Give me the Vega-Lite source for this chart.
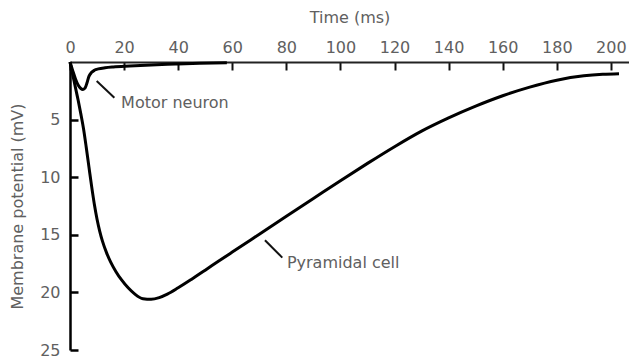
{
  "$schema": "https://vega.github.io/schema/vega-lite/v6.json",
  "autosize": "none",
  "width": 559,
  "height": 288,
  "padding": {"left": 70, "top": 62, "right": 0, "bottom": 11},
  "background": "white",
  "config": {
    "view": {"stroke": null},
    "font": "DejaVu Sans",
    "axis": {"labelFont": "DejaVu Sans", "titleFont": "DejaVu Sans", "labelFontSize": 16, "titleFontSize": 16, "labelColor": "#606060", "titleColor": "#606060", "titleFontWeight": "normal", "grid": false}
  },
  "datasets": {
    "curves": [
      {"cell": "Pyramidal cell", "time": 0, "mv": 0},
      {"cell": "Pyramidal cell", "time": 1, "mv": 1.1},
      {"cell": "Pyramidal cell", "time": 2, "mv": 2.2},
      {"cell": "Pyramidal cell", "time": 3, "mv": 3.3},
      {"cell": "Pyramidal cell", "time": 4, "mv": 4.5},
      {"cell": "Pyramidal cell", "time": 5, "mv": 5.8},
      {"cell": "Pyramidal cell", "time": 6, "mv": 7.4},
      {"cell": "Pyramidal cell", "time": 7, "mv": 9.1},
      {"cell": "Pyramidal cell", "time": 8, "mv": 10.8},
      {"cell": "Pyramidal cell", "time": 9, "mv": 12.35},
      {"cell": "Pyramidal cell", "time": 10, "mv": 13.65},
      {"cell": "Pyramidal cell", "time": 11, "mv": 14.7},
      {"cell": "Pyramidal cell", "time": 12, "mv": 15.55},
      {"cell": "Pyramidal cell", "time": 13.5, "mv": 16.55},
      {"cell": "Pyramidal cell", "time": 15, "mv": 17.35},
      {"cell": "Pyramidal cell", "time": 17, "mv": 18.2},
      {"cell": "Pyramidal cell", "time": 19, "mv": 18.9},
      {"cell": "Pyramidal cell", "time": 21.5, "mv": 19.6},
      {"cell": "Pyramidal cell", "time": 24, "mv": 20.15},
      {"cell": "Pyramidal cell", "time": 27, "mv": 20.55},
      {"cell": "Pyramidal cell", "time": 30, "mv": 20.6},
      {"cell": "Pyramidal cell", "time": 33, "mv": 20.45},
      {"cell": "Pyramidal cell", "time": 36, "mv": 20.15},
      {"cell": "Pyramidal cell", "time": 40, "mv": 19.6},
      {"cell": "Pyramidal cell", "time": 45, "mv": 18.85},
      {"cell": "Pyramidal cell", "time": 50, "mv": 18.07},
      {"cell": "Pyramidal cell", "time": 55, "mv": 17.28},
      {"cell": "Pyramidal cell", "time": 60, "mv": 16.5},
      {"cell": "Pyramidal cell", "time": 70, "mv": 14.95},
      {"cell": "Pyramidal cell", "time": 80, "mv": 13.4},
      {"cell": "Pyramidal cell", "time": 90, "mv": 11.85},
      {"cell": "Pyramidal cell", "time": 100, "mv": 10.3},
      {"cell": "Pyramidal cell", "time": 110, "mv": 8.8},
      {"cell": "Pyramidal cell", "time": 120, "mv": 7.35},
      {"cell": "Pyramidal cell", "time": 130, "mv": 6.0},
      {"cell": "Pyramidal cell", "time": 140, "mv": 4.85},
      {"cell": "Pyramidal cell", "time": 150, "mv": 3.83},
      {"cell": "Pyramidal cell", "time": 160, "mv": 2.93},
      {"cell": "Pyramidal cell", "time": 170, "mv": 2.18},
      {"cell": "Pyramidal cell", "time": 180, "mv": 1.58},
      {"cell": "Pyramidal cell", "time": 190, "mv": 1.2},
      {"cell": "Pyramidal cell", "time": 197, "mv": 1.07},
      {"cell": "Pyramidal cell", "time": 203, "mv": 1.02},
      {"cell": "Motor neuron", "time": 0, "mv": 0},
      {"cell": "Motor neuron", "time": 1, "mv": 0.75},
      {"cell": "Motor neuron", "time": 2, "mv": 1.45},
      {"cell": "Motor neuron", "time": 3, "mv": 2.0},
      {"cell": "Motor neuron", "time": 4, "mv": 2.3},
      {"cell": "Motor neuron", "time": 4.8, "mv": 2.38},
      {"cell": "Motor neuron", "time": 5.6, "mv": 2.25},
      {"cell": "Motor neuron", "time": 6.3, "mv": 1.8},
      {"cell": "Motor neuron", "time": 7, "mv": 1.25},
      {"cell": "Motor neuron", "time": 8, "mv": 0.9},
      {"cell": "Motor neuron", "time": 9, "mv": 0.72},
      {"cell": "Motor neuron", "time": 10.5, "mv": 0.6},
      {"cell": "Motor neuron", "time": 13, "mv": 0.5},
      {"cell": "Motor neuron", "time": 16, "mv": 0.43},
      {"cell": "Motor neuron", "time": 22, "mv": 0.35},
      {"cell": "Motor neuron", "time": 30, "mv": 0.26},
      {"cell": "Motor neuron", "time": 39, "mv": 0.18},
      {"cell": "Motor neuron", "time": 48, "mv": 0.11},
      {"cell": "Motor neuron", "time": 58, "mv": 0.06}
    ],
    "leaders": [
      {"label": "Motor neuron", "x": 9.87, "y": 1.65, "x2": 16.4, "y2": 3.1},
      {"label": "Pyramidal cell", "x": 72.1, "y": 15.48, "x2": 78.5, "y2": 16.98}
    ],
    "labels": [
      {"label": "Motor neuron", "x": 18.9, "y": 3.57},
      {"label": "Pyramidal cell", "x": 80.2, "y": 17.48}
    ]
  },
  "layer": [
    {
      "data": {"name": "curves"},
      "mark": {"type": "line", "interpolate": "monotone", "strokeWidth": 3, "strokeCap": "butt"},
      "encoding": {
        "x": {
          "field": "time", "type": "quantitative",
          "scale": {"domain": [0, 206.7], "nice": false, "zero": false},
          "axis": {
            "orient": "top", "title": "Time (ms)", "values": [0, 20, 40, 60, 80, 100, 120, 140, 160, 180, 200],
            "tickSize": -8, "tickWidth": 2, "tickColor": "#111", "domainColor": "#222", "domainWidth": 2,
            "labelPadding": 15, "titlePadding": 14, "labelFlush": false
          }
        },
        "y": {
          "field": "mv", "type": "quantitative",
          "scale": {"domain": [0, 25], "reverse": true, "nice": false},
          "axis": {
            "orient": "left", "title": "Membrane potential (mV)", "values": [5, 10, 15, 20, 25],
            "tickSize": -8, "tickWidth": 2.5, "tickColor": "#000", "domainColor": "#000", "domainWidth": 2.5,
            "labelPadding": 18, "titlePadding": 14
          }
        },
        "detail": {"field": "cell"},
        "color": {"value": "#000"}
      }
    },
    {
      "data": {"name": "leaders"},
      "mark": {"type": "rule", "strokeWidth": 2, "color": "#111"},
      "encoding": {
        "x": {"field": "x", "type": "quantitative"},
        "y": {"field": "y", "type": "quantitative"},
        "x2": {"field": "x2"},
        "y2": {"field": "y2"}
      }
    },
    {
      "data": {"name": "labels"},
      "mark": {"type": "text", "align": "left", "baseline": "middle", "font": "DejaVu Sans", "fontSize": 16, "color": "#606060"},
      "encoding": {
        "x": {"field": "x", "type": "quantitative"},
        "y": {"field": "y", "type": "quantitative"},
        "text": {"field": "label"}
      }
    }
  ]
}
